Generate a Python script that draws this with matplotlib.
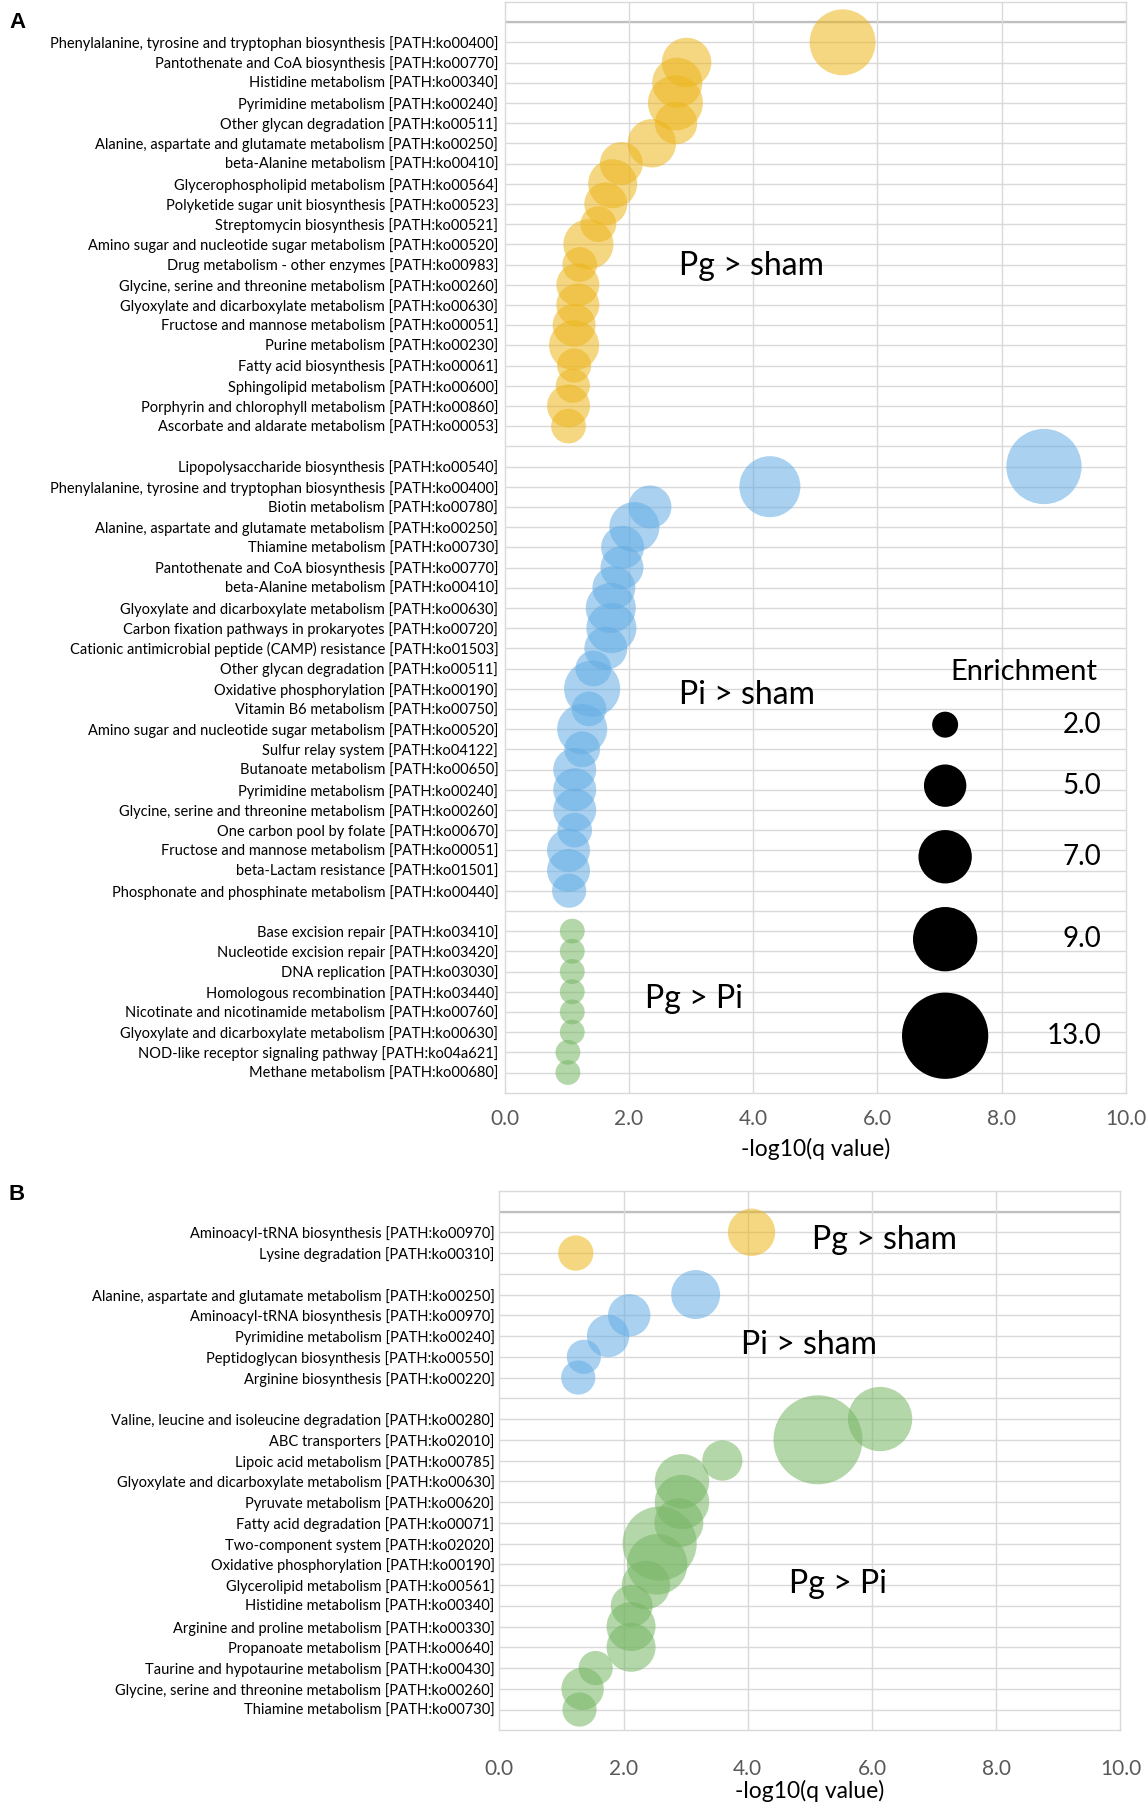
import numpy as np
import matplotlib
matplotlib.use("Agg")
import matplotlib.pyplot as plt

plt.rcParams['font.family'] = ['Lato', 'DejaVu Sans']

# ---- panel A data ----
a_pg_sham_labels = [
    "Phenylalanine, tyrosine and tryptophan biosynthesis [PATH:ko00400]",
    "Pantothenate and CoA biosynthesis [PATH:ko00770]",
    "Histidine metabolism [PATH:ko00340]",
    "Pyrimidine metabolism [PATH:ko00240]",
    "Other glycan degradation [PATH:ko00511]",
    "Alanine, aspartate and glutamate metabolism [PATH:ko00250]",
    "beta-Alanine metabolism [PATH:ko00410]",
    "Glycerophospholipid metabolism [PATH:ko00564]",
    "Polyketide sugar unit biosynthesis [PATH:ko00523]",
    "Streptomycin biosynthesis [PATH:ko00521]",
    "Amino sugar and nucleotide sugar metabolism [PATH:ko00520]",
    "Drug metabolism - other enzymes [PATH:ko00983]",
    "Glycine, serine and threonine metabolism [PATH:ko00260]",
    "Glyoxylate and dicarboxylate metabolism [PATH:ko00630]",
    "Fructose and mannose metabolism [PATH:ko00051]",
    "Purine metabolism [PATH:ko00230]",
    "Fatty acid biosynthesis [PATH:ko00061]",
    "Sphingolipid metabolism [PATH:ko00600]",
    "Porphyrin and chlorophyll metabolism [PATH:ko00860]",
    "Ascorbate and aldarate metabolism [PATH:ko00053]",
]
a_pg_sham_q = [5.44, 2.93, 2.78, 2.75, 2.76, 2.37, 1.88, 1.74, 1.63, 1.51,
               1.35, 1.21, 1.18, 1.18, 1.12, 1.12, 1.12, 1.10, 1.03, 1.03]
a_pg_sham_enr = [9.3, 6.3, 6.4, 7.3, 5.0, 6.1, 5.1, 6.2, 5.1, 3.8,
                 6.4, 3.6, 5.1, 5.1, 5.1, 6.4, 3.5, 3.5, 5.1, 3.6]

a_pi_sham_labels = [
    "Lipopolysaccharide biosynthesis [PATH:ko00540]",
    "Phenylalanine, tyrosine and tryptophan biosynthesis [PATH:ko00400]",
    "Biotin metabolism [PATH:ko00780]",
    "Alanine, aspartate and glutamate metabolism [PATH:ko00250]",
    "Thiamine metabolism [PATH:ko00730]",
    "Pantothenate and CoA biosynthesis [PATH:ko00770]",
    "beta-Alanine metabolism [PATH:ko00410]",
    "Glyoxylate and dicarboxylate metabolism [PATH:ko00630]",
    "Carbon fixation pathways in prokaryotes [PATH:ko00720]",
    "Cationic antimicrobial peptide (CAMP) resistance [PATH:ko01503]",
    "Other glycan degradation [PATH:ko00511]",
    "Oxidative phosphorylation [PATH:ko00190]",
    "Vitamin B6 metabolism [PATH:ko00750]",
    "Amino sugar and nucleotide sugar metabolism [PATH:ko00520]",
    "Sulfur relay system [PATH:ko04122]",
    "Butanoate metabolism [PATH:ko00650]",
    "Pyrimidine metabolism [PATH:ko00240]",
    "Glycine, serine and threonine metabolism [PATH:ko00260]",
    "One carbon pool by folate [PATH:ko00670]",
    "Fructose and mannose metabolism [PATH:ko00051]",
    "beta-Lactam resistance [PATH:ko01501]",
    "Phosphonate and phosphinate metabolism [PATH:ko00440]",
]
a_pi_sham_q = [8.68, 4.27, 2.34, 2.09, 1.90, 1.89, 1.76, 1.71, 1.72, 1.63, 1.43,
               1.41, 1.36, 1.25, 1.25, 1.13, 1.13, 1.13, 1.13, 1.03, 1.03, 1.04]
a_pi_sham_enr = [11.0, 8.4, 5.1, 6.4, 5.1, 5.1, 5.1, 6.4, 6.4, 5.1, 3.8,
                 7.5, 3.6, 6.4, 3.8, 5.1, 5.1, 5.1, 3.6, 5.1, 5.1, 3.5]

a_pg_pi_labels = [
    "Base excision repair [PATH:ko03410]",
    "Nucleotide excision repair [PATH:ko03420]",
    "DNA replication [PATH:ko03030]",
    "Homologous recombination [PATH:ko03440]",
    "Nicotinate and nicotinamide metabolism [PATH:ko00760]",
    "Glyoxylate and dicarboxylate metabolism [PATH:ko00630]",
    "NOD-like receptor signaling pathway [PATH:ko04a621]",
    "Methane metabolism [PATH:ko00680]",
]
a_pg_pi_q = [1.09, 1.09, 1.09, 1.09, 1.09, 1.09, 1.02, 1.02]
a_pg_pi_enr = [1.8, 1.8, 1.8, 1.8, 1.8, 1.8, 1.8, 1.8]

# ---- panel B data ----
b_pg_sham_labels = [
    "Aminoacyl-tRNA biosynthesis [PATH:ko00970]",
    "Lysine degradation [PATH:ko00310]",
]
b_pg_sham_q = [4.06, 1.23]
b_pg_sham_enr = [5.9, 3.7]

b_pi_sham_labels = [
    "Alanine, aspartate and glutamate metabolism [PATH:ko00250]",
    "Aminoacyl-tRNA biosynthesis [PATH:ko00970]",
    "Pyrimidine metabolism [PATH:ko00240]",
    "Peptidoglycan biosynthesis [PATH:ko00550]",
    "Arginine biosynthesis [PATH:ko00220]",
]
b_pi_sham_q = [3.16, 2.09, 1.75, 1.36, 1.27]
b_pi_sham_enr = [6.2, 5.0, 5.0, 3.5, 3.5]

b_pg_pi_labels = [
    "Valine, leucine and isoleucine degradation [PATH:ko00280]",
    "ABC transporters [PATH:ko02010]",
    "Lipoic acid metabolism [PATH:ko00785]",
    "Glyoxylate and dicarboxylate metabolism [PATH:ko00630]",
    "Pyruvate metabolism [PATH:ko00620]",
    "Fatty acid degradation [PATH:ko00071]",
    "Two-component system [PATH:ko02020]",
    "Oxidative phosphorylation [PATH:ko00190]",
    "Glycerolipid metabolism [PATH:ko00561]",
    "Histidine metabolism [PATH:ko00340]",
    "Arginine and proline metabolism [PATH:ko00330]",
    "Propanoate metabolism [PATH:ko00640]",
    "Taurine and hypotaurine metabolism [PATH:ko00430]",
    "Glycine, serine and threonine metabolism [PATH:ko00260]",
    "Thiamine metabolism [PATH:ko00730]",
]
b_pg_pi_q = [6.13, 5.13, 3.59, 2.94, 2.94, 2.89, 2.58, 2.54, 2.36, 2.13,
             2.12, 2.12, 1.55, 1.34, 1.29]
b_pg_pi_enr = [9.0, 13.5, 4.6, 7.2, 7.2, 6.2, 10.8, 8.3, 6.1, 4.9,
               6.2, 6.2, 3.5, 5.0, 3.5]

legend_values = [2.0, 5.0, 7.0, 9.0, 13.0]
group_names = ["Pg > sham", "Pi > sham", "Pg > Pi"]
group_colors = ["#EDB61C", "#64ADE4", "#77B664"]

DPI = 100


def bubble_area(enr):
    # diameter in pixels grows linearly with enrichment
    d_px = 15 + 5.48 * np.asarray(enr, dtype=float)
    return (d_px * 72.0 / DPI) ** 2


def bubble_panel(ax, groups, text_pos, ypad):
    rows, labels = [], []
    start = 0
    for i, (labs, q, enr) in enumerate(groups):
        y = start + np.arange(len(labs))
        ax.scatter(q, y, s=bubble_area(enr), color=group_colors[i], alpha=0.55,
                   edgecolors='none', zorder=3)
        rows.extend(y)
        labels.extend(labs)
        start += len(labs) + 1
    last = rows[-1]
    for r in range(-1, last + 1):
        ax.axhline(r, color='#D9D9D9', lw=1.0, zorder=1)
    ax.axhline(-1, color='#BFBFBF', lw=1.6, zorder=1)
    for v in [2, 4, 6, 8]:
        ax.axvline(v, color='#D9D9D9', lw=1.0, zorder=1)
    ax.set_xlim(0, 10)
    ax.set_ylim(last + 1, -2)
    ax.set_yticks(rows)
    ax.set_yticklabels(labels, fontsize=10.5, color='black')
    ax.set_xticks([0, 2, 4, 6, 8, 10])
    ax.set_xticklabels(["0.0", "2.0", "4.0", "6.0", "8.0", "10.0"])
    ax.tick_params(axis='y', length=0, pad=ypad)
    ax.tick_params(axis='x', length=0, labelsize=15, labelcolor='#595959')
    for sp in ax.spines.values():
        sp.set_color('#D9D9D9')
        sp.set_linewidth(1.0)
    for name, (tx, ty) in zip(group_names, text_pos):
        ax.text(tx, ty, name, fontsize=23, va='center', ha='left', zorder=4)
    return last


fig = plt.figure(figsize=(1146 / DPI, 1805 / DPI), dpi=DPI)

W, H = 1146.0, 1805.0
axA = fig.add_axes([504.5 / W, 1 - 1092.7 / H, 621.5 / W, 1090.8 / H])
bubble_panel(axA,
             [(a_pg_sham_labels, a_pg_sham_q, a_pg_sham_enr),
              (a_pi_sham_labels, a_pi_sham_q, a_pi_sham_enr),
              (a_pg_pi_labels, a_pg_pi_q, a_pg_pi_enr)],
             [(2.81, 11.07), (2.81, 32.3), (2.26, 47.35)], ypad=4.5)
axA.tick_params(axis='x', pad=12)
axA.set_xlabel("-log10(q value)", fontsize=16.5, labelpad=6.5)

# size legend drawn inside panel A
leg_rows = [33.78, 36.8, 40.32, 44.4, 49.18]
axA.scatter([7.09] * len(legend_values), leg_rows, s=bubble_area(legend_values),
            color='black', edgecolors='none', zorder=5)
for v, r in zip(legend_values, leg_rows):
    axA.text(9.6, r, f"{v:.1f}", fontsize=20, ha='right', va='center', zorder=5)
axA.text(8.36, 31.17, "Enrichment", fontsize=21, ha='center', va='center', zorder=5)

axB = fig.add_axes([499.4 / W, 1 - 1730.3 / H, 621.0 / W, 539.5 / H])
bubble_panel(axB,
             [(b_pg_sham_labels, b_pg_sham_q, b_pg_sham_enr),
              (b_pi_sham_labels, b_pi_sham_q, b_pi_sham_enr),
              (b_pg_pi_labels, b_pg_pi_q, b_pg_pi_enr)],
             [(5.03, 0.35), (3.89, 5.43), (4.66, 16.97)], ypad=3.5)
axB.tick_params(axis='x', pad=21)
axB.set_xlabel("-log10(q value)", fontsize=16.5, labelpad=0.5)

fig.text(9 / W, 1 - 23 / H, "A", fontsize=16, fontweight='bold',
         family='Liberation Sans', va='center', ha='left')
fig.text(9 / W, 1 - 1195 / H, "B", fontsize=16, fontweight='bold',
         family='Liberation Sans', va='center', ha='left')

fig.savefig("out.png", dpi=DPI)
